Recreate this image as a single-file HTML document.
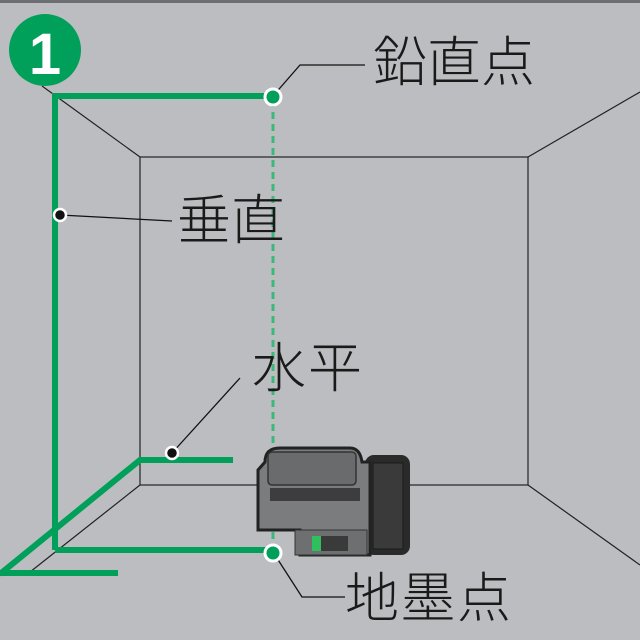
<!DOCTYPE html>
<html><head><style>
html,body{margin:0;padding:0;background:#bcbdc0;}
svg{display:block}
text{font-family:"Liberation Sans","Noto Sans CJK JP",sans-serif;fill:#1a1a1a}
</style></head><body>
<svg width="640" height="640" viewBox="0 0 640 640">
<rect width="640" height="640" fill="#bcbdc0"/>
<rect width="640" height="3" fill="#6d6e71"/>
<g stroke="#222" stroke-width="1.2" fill="none">
<rect x="140" y="157" width="388" height="328"/>
<line x1="42" y1="86" x2="140" y2="157"/>
<line x1="640" y1="92" x2="528" y2="157"/>
<line x1="528" y1="485" x2="640" y2="565"/>
<line x1="140" y1="485" x2="30" y2="572"/>
</g>
<g stroke="#00a05a" stroke-width="6" fill="none">
<polyline points="55,550 55,96 273,96"/>
<line x1="55" y1="550" x2="272" y2="550"/>
<polyline points="233,460 140,460 0,574"/>
<line x1="0" y1="573" x2="118" y2="573"/>
</g>
<line x1="273" y1="100" x2="273" y2="548" stroke="#3cb878" stroke-width="3" stroke-dasharray="7,5"/>
<g>
<rect x="365" y="455" width="45" height="100" rx="9" fill="#2a2a2a"/>
<rect x="373" y="463" width="30" height="86" fill="#3a3a3a" stroke="#1a1a1a"/>
<path d="M265,462 Q265,448 280,448 L350,448 Q360,448 362,462 L370,462 L370,555 L300,555 L300,530 L258,530 L258,470 Z" fill="#7b7c7e" stroke="#222" stroke-width="3"/>
<rect x="268" y="452" width="88" height="33" rx="4" fill="#6a6b6d" stroke="#333" stroke-width="1.5"/>
<rect x="270" y="488" width="90" height="13" fill="#3d3d3f"/>
<rect x="295" y="530" width="72" height="25" fill="#6e6f71" stroke="#333"/>
<rect x="312" y="536" width="36" height="15" fill="#3a3a3a"/>
<rect x="312" y="536" width="9" height="15" fill="#2fbf5f"/>
</g>
<circle cx="45" cy="50" r="36" fill="#00a05a"/>
<text x="45" y="74" text-anchor="middle" font-size="58" font-weight="bold" style="fill:#fff">1</text>
<g stroke="#111" stroke-width="1.3" fill="none">
<polyline points="273,96 300,65 365,65"/>
<line x1="60" y1="215" x2="172" y2="221"/>
<line x1="172" y1="453" x2="240" y2="378"/>
<polyline points="273,552 302,597 345,597"/>
</g>
<circle cx="273" cy="97" r="8" fill="#00a05a" stroke="#fff" stroke-width="3"/>
<circle cx="273" cy="553" r="8" fill="#00a05a" stroke="#fff" stroke-width="3"/>
<circle cx="60" cy="215" r="6" fill="#111" stroke="#fff" stroke-width="2.5"/>
<circle cx="172" cy="453" r="6" fill="#111" stroke="#fff" stroke-width="2.5"/>
<g style="font-weight:300">
<text x="373" y="81" font-size="54" textLength="162">鉛直点</text>
<text x="177" y="239" font-size="54" textLength="108">垂直</text>
<text x="252" y="387" font-size="54" textLength="110">水平</text>
<text x="345" y="617" font-size="54" textLength="166">地墨点</text>
</g>
</svg>
</body></html>
